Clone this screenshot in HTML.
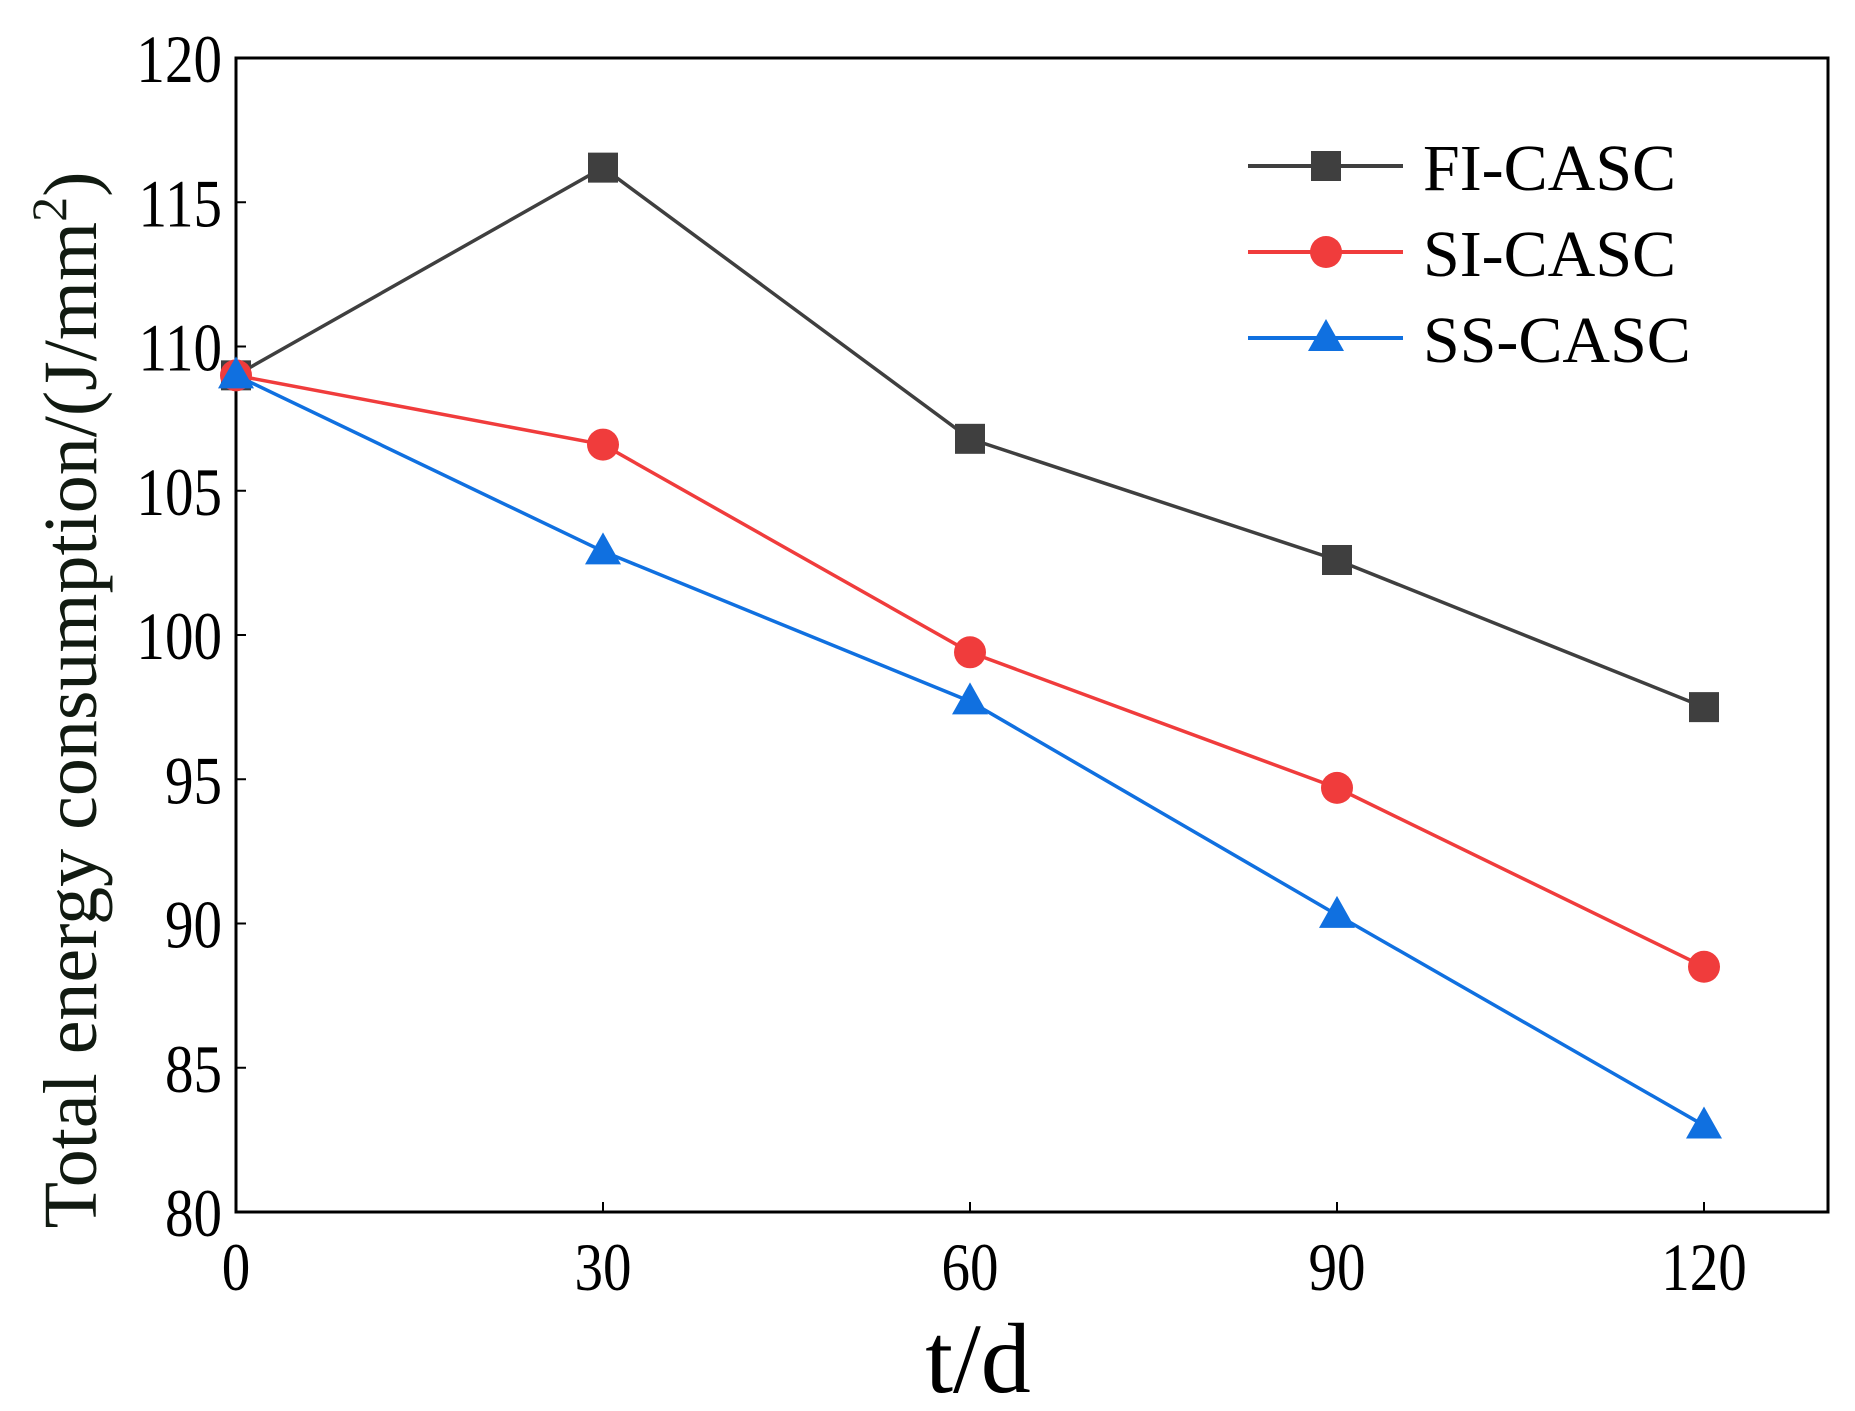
<!DOCTYPE html>
<html><head><meta charset="utf-8"><style>body{margin:0;background:#fff}svg{display:block}text{font-family:"Liberation Serif",serif}</style></head>
<body>
<svg id="chart" width="1855" height="1411" xmlns="http://www.w3.org/2000/svg"></svg>
<script>
const categories=[0,30,60,90,120];
const fiValues=[109,116.2,106.8,102.6,97.5];
const siValues=[109,106.6,99.4,94.7,88.5];
const ssValues=[109,102.9,97.7,90.3,83.0];
const yTicks=[80,85,90,95,100,105,110,115,120];
const seriesNames=["FI-CASC","SI-CASC","SS-CASC"];
const L=236,R=1828,T=58,B=1212;
const NS="http://www.w3.org/2000/svg";
const svg=document.getElementById('chart');
function xs(v){return L+(v-0)/(120-0)*(1704-L);}
function ys(v){return B-(v-80)/(120-80)*(B-T);}
function mk(t,a,p){const e=document.createElementNS(NS,t);for(const k in a)e.setAttribute(k,a[k]);(p||svg).appendChild(e);return e;}
const frame=mk('rect',{x:L,y:T,width:R-L,height:B-T,fill:'none',stroke:'#000','stroke-width':3});


yTicks.forEach(v=>{
 const tk=mk('line',{x1:L,x2:L+10,y1:ys(v),y2:ys(v),stroke:'#000','stroke-width':2});
 
 
 const t=mk('text',{x:L-14,y:ys(v)+22,'text-anchor':'end','font-size':62,fill:'#000',transform:`translate(${L-14},${ys(v)}) scale(0.92,1.1) translate(${-(L-14)},${-ys(v)})`});
 t.textContent=v;
 
 
});
categories.forEach(v=>{
 const tk=mk('line',{x1:xs(v),x2:xs(v),y1:B,y2:B-10,stroke:'#000','stroke-width':2});
 
 
 const t=mk('text',{x:xs(v),y:B+78,'text-anchor':'middle','font-size':62,fill:'#000',transform:`translate(${xs(v)},${B+78}) scale(0.92,1.1) translate(${-xs(v)},${-(B+78)})`});
 t.textContent=v;
 
 
});
const xt=mk('text',{x:978,y:1392,'text-anchor':'middle','font-size':100,fill:'#000'});
xt.textContent='t/d';


const yt=mk('text',{x:0,y:0,'text-anchor':'middle','font-size':76,fill:'#111a11',transform:'translate(96,700) rotate(-90)'});
yt.innerHTML='Total energy consumption/(J/mm<tspan dy="-30" font-size="50">2</tspan><tspan dy="30">)</tspan>';


const colors=['#3f3f3f','#f03c3c','#1070e0'];
const shapes=['square','circle','triangle'];
function marker(shape,x,y,c,name){
 let e;
 if(shape==='square')e=mk('rect',{x:x-15,y:y-15,width:30,height:30,fill:c});
 else if(shape==='circle')e=mk('circle',{cx:x,cy:y,r:16,fill:c});
 else e=mk('polygon',{points:`${x},${y-19} ${x+18},${y+13} ${x-18},${y+13}`,fill:c});
 
 
}
[fiValues,siValues,ssValues].forEach((vals,i)=>{
 const pts=vals.map((v,j)=>xs(categories[j])+','+ys(v)).join(' ');
 const pl=mk('polyline',{points:pts,fill:'none',stroke:colors[i],'stroke-width':3.5});
 
 
 vals.forEach((v,j)=>marker(shapes[i],xs(categories[j]),ys(v),colors[i],seriesNames[i].toLowerCase()+'-point'));
 const ly=166+i*86;
 const ll=mk('line',{x1:1248,x2:1403,y1:ly,y2:ly,stroke:colors[i],'stroke-width':4});
 
 
 marker(shapes[i],1326,ly,colors[i],'legend-marker');
 const lt=mk('text',{x:1423,y:ly+24,'font-size':66,fill:'#000'});
 lt.textContent=seriesNames[i];
 
 
});
</script>
</body></html>
